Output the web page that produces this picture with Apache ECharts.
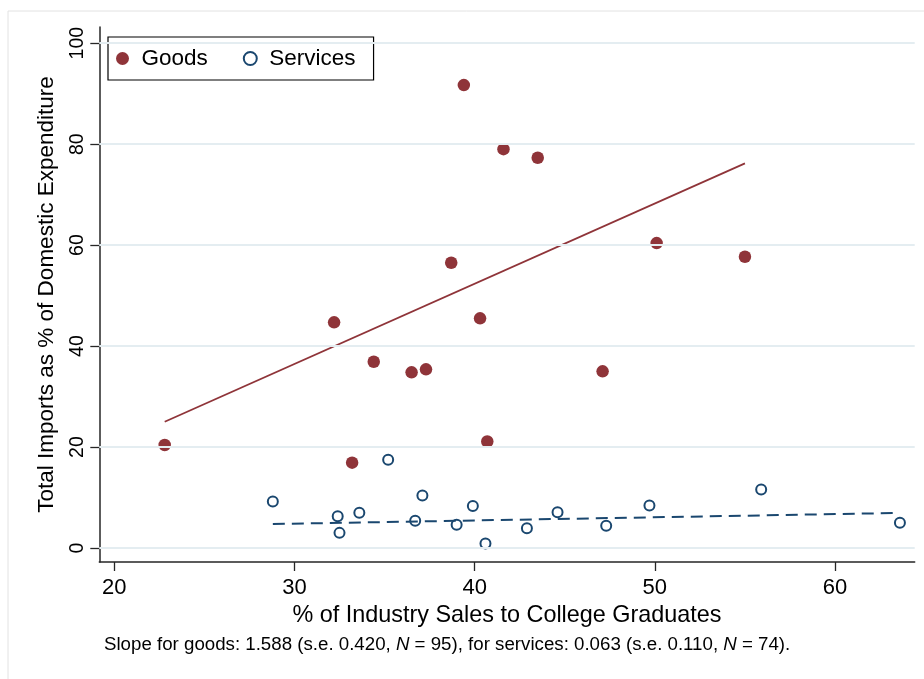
<!DOCTYPE html>
<html>
<head>
<meta charset="utf-8">
<script src="https://cdn.jsdelivr.net/npm/echarts@6/dist/echarts.min.js"></script>
<style>
html,body{margin:0;padding:0;background:#fff;}
#c{width:924px;height:679px;}
</style>
</head>
<body>
<div id="c"></div>
<script>
// ---- data ----
const goodsX = [22.8, 32.2, 33.2, 34.4, 36.5, 37.3, 38.7, 39.4, 40.3, 40.7, 41.6, 43.5, 47.1, 50.1, 55.0];
const goodsY = [20.4, 44.7, 16.9, 36.9, 34.8, 35.4, 56.5, 91.7, 45.5, 21.1, 79.0, 77.3, 35.0, 60.4, 57.7];
const servicesX = [28.8, 32.4, 32.5, 33.6, 35.2, 36.7, 37.1, 39.0, 39.9, 40.6, 42.9, 44.6, 47.3, 49.7, 55.9, 63.6];
const servicesY = [9.2, 6.3, 3.0, 7.0, 17.5, 5.4, 10.4, 4.6, 8.3, 0.9, 3.9, 7.1, 4.4, 8.4, 11.6, 5.0];
const goodsFitX = [22.8, 55.0];
const goodsFitY = [25.0, 76.2];
const servicesFitX = [28.8, 63.3];
const servicesFitY = [4.75, 6.93];
const xTicks = [20, 30, 40, 50, 60];
const yTicks = [0, 20, 40, 60, 80, 100];
const xRange = [19.17, 64.42];
const yRange = [-2.77, 103.2];
const seriesNames = ['Goods', 'Services'];
const xTitle = '% of Industry Sales to College Graduates';
const yTitle = 'Total Imports as % of Domestic Expenditure';
const noteText = 'Slope for goods: 1.588 (s.e. 0.420, {i|N} = 95), for services: 0.063 (s.e. 0.110, {i|N} = 74).';

const pair = (xs, ys) => xs.map((x, i) => [x, ys[i]]);
const maroon = '#8f3439';
const navy = '#1a476f';
const axisCol = '#262626';
const FONT = '"Liberation Sans", Arial, Helvetica, sans-serif';

const chart = echarts.init(document.getElementById('c'), null, {renderer: 'canvas'});
chart.setOption({
  backgroundColor: '#ffffff',
  animation: false,
  textStyle: {fontFamily: FONT},
  grid: {left: 99.3, right: 9.3, top: 27, bottom: 117, containLabel: false},
  legend: {
    left: 108, top: 37,
    orient: 'horizontal',
    padding: [10, 18, 10, 8],
    itemWidth: 28, itemHeight: 13, itemGap: 35,
    borderColor: '#000', borderWidth: 1.2, borderRadius: 0,
    backgroundColor: '#fff',
    textStyle: {fontSize: 22.5, color: '#000', fontFamily: FONT},
    data: [
      {name: seriesNames[0], icon: 'circle'},
      {name: seriesNames[1], icon: 'emptyCircle'}
    ]
  },
  xAxis: {
    type: 'value',
    min: xRange[0], max: xRange[1],
    name: xTitle, nameLocation: 'middle', nameGap: 35,
    nameTextStyle: {fontSize: 23.4, color: '#000', fontFamily: FONT},
    axisLine: {show: true, onZero: false, lineStyle: {color: axisCol, width: 1.5}},
    axisTick: {show: true, length: 9, inside: false, customValues: xTicks, lineStyle: {color: axisCol, width: 1.3}},
    axisLabel: {show: true, customValues: xTicks, margin: 15, fontSize: 22, color: '#000', fontFamily: FONT},
    splitLine: {show: false}
  },
  yAxis: {
    type: 'value',
    min: yRange[0], max: yRange[1],
    name: yTitle, nameLocation: 'middle', nameGap: 41, nameRotate: 90,
    nameTextStyle: {fontSize: 22.5, color: '#000', fontFamily: FONT},
    axisLine: {show: true, onZero: false, lineStyle: {color: axisCol, width: 1.5}},
    axisTick: {show: true, length: 9, inside: false, customValues: yTicks, lineStyle: {color: axisCol, width: 1.3}},
    axisLabel: {show: true, customValues: yTicks, rotate: 90, margin: 12, fontSize: 19.5, color: '#000', fontFamily: FONT},
    splitLine: {show: false}
  },
  graphic: [
    {type: 'rect', silent: true, z: -10, shape: {x: 8, y: 11, width: 940, height: 700},
      style: {fill: 'none', stroke: '#e2e2e2', lineWidth: 1}},
    {type: 'text', left: 104, top: 635, silent: true,
      style: {
        text: noteText,
        fontSize: 18.7, fontFamily: FONT, fill: '#000',
        rich: {i: {fontStyle: 'italic', fontSize: 18.7, fontFamily: FONT, fill: '#000'}}
      }}
  ],
  series: [
    {
      name: 'gridlines', type: 'line', data: [], z: 0, silent: true,
      markLine: {
        silent: true, symbol: 'none', animation: false,
        label: {show: false},
        lineStyle: {color: '#e4edf1', width: 1.8, type: 'solid'},
        emphasis: {disabled: true},
        data: yTicks.map(v => ({yAxis: v}))
      }
    },
    {
      name: seriesNames[0], type: 'scatter', z: 2,
      symbol: 'circle', symbolSize: 12.5,
      itemStyle: {color: maroon, opacity: 1},
      data: pair(goodsX, goodsY)
    },
    {
      name: seriesNames[1], type: 'scatter', z: 2,
      symbol: 'emptyCircle', symbolSize: 10,
      itemStyle: {color: navy, borderColor: navy, borderWidth: 2, opacity: 1},
      data: pair(servicesX, servicesY)
    },
    {
      name: 'Goods fit', type: 'line', z: 3, showSymbol: false, symbol: 'none', silent: true,
      lineStyle: {color: maroon, width: 1.8, type: 'solid'},
      data: pair(goodsFitX, goodsFitY)
    },
    {
      name: 'Services fit', type: 'line', z: 3, showSymbol: false, symbol: 'none', silent: true,
      lineStyle: {color: navy, width: 2, type: [12, 7]},
      data: pair(servicesFitX, servicesFitY)
    }
  ]
});
</script>
</body>
</html>
